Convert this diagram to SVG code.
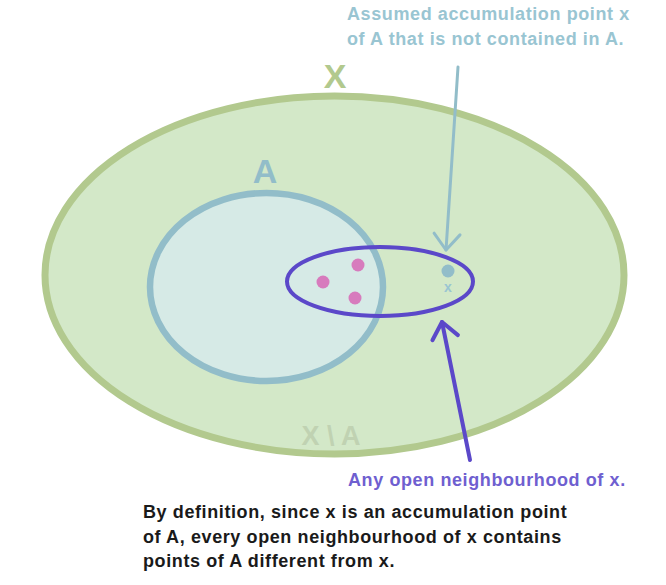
<svg xmlns="http://www.w3.org/2000/svg" width="666" height="585" viewBox="0 0 666 585">
<defs>
<style>
.lbl{font-family:"Liberation Sans",Arial,Helvetica,sans-serif;font-weight:bold}
.big{font-size:34px}
.txt{font-size:18px;letter-spacing:0.6px}
.blue{fill:#99c5d2}
.purple{fill:#6f5fd0}
.body{fill:#1a1a1a}
</style>
<marker id="headBlue" viewBox="-20 -16 24 32" markerWidth="24" markerHeight="32" refX="0" refY="0" orient="auto" markerUnits="userSpaceOnUse" overflow="visible">
<path d="M -16 -13 L 0 0 L -16 13" fill="none" stroke="#92bdc9" stroke-width="3" stroke-linecap="round" stroke-linejoin="round"/>
</marker>
<marker id="headPurple" viewBox="-20 -16 24 32" markerWidth="24" markerHeight="32" refX="0" refY="0" orient="auto" markerUnits="userSpaceOnUse" overflow="visible">
<path d="M -16 -13 L 0 0 L -16 13" fill="none" stroke="#5b48c9" stroke-width="4" stroke-linecap="round" stroke-linejoin="round"/>
</marker>
</defs>
<rect width="666" height="585" fill="#ffffff"/>
<g id="setX">
<ellipse cx="334.5" cy="275" rx="289.5" ry="179" fill="#d3e8c8" stroke="#b2c98e" stroke-width="7"/>
<text class="lbl big" x="335" y="88" text-anchor="middle" fill="#b2c98e">X</text>
<text class="lbl" x="331" y="445" text-anchor="middle" font-size="27" fill="#c0d2b2">X \ A</text>
</g>
<g id="setA">
<ellipse cx="266.5" cy="287" rx="116.5" ry="94" fill="#d6eae6" stroke="#92bdc9" stroke-width="6.5"/>
<text class="lbl big" x="265" y="183" text-anchor="middle" fill="#92bdc9">A</text>
</g>
<g id="neighbourhood">
<ellipse cx="380" cy="281.5" rx="93" ry="34.5" fill="none" stroke="#5b48c9" stroke-width="4"/>
</g>
<g id="pointsA" fill="#d77bbd">
<circle cx="323" cy="282" r="6.5"/>
<circle cx="358" cy="265" r="6.5"/>
<circle cx="355" cy="298" r="6.5"/>
</g>
<g id="pointX">
<circle cx="448" cy="271" r="6.5" fill="#92bdc9"/>
<text class="lbl" x="448" y="292" text-anchor="middle" font-size="14" fill="#99c5d2">x</text>
</g>
<g id="connectors" fill="none" stroke-linecap="round">
<path d="M 458 67 L 446 250" stroke="#92bdc9" stroke-width="3" marker-end="url(#headBlue)"/>
<path d="M 470 460 L 442 322" stroke="#5b48c9" stroke-width="4" marker-end="url(#headPurple)"/>
</g>
<g id="labelAssumed">
<text class="lbl txt blue" x="347" y="20" letter-spacing="0.7">Assumed accumulation point x</text>
<text class="lbl txt blue" x="347" y="45" letter-spacing="0.7">of A that is not contained in A.</text>
</g>
<g id="labelNeighbourhood">
<text class="lbl txt purple" x="348" y="486">Any open neighbourhood of x.</text>
</g>
<g id="labelDefinition">
<text class="lbl txt body" x="143" y="518">By definition, since x is an accumulation point</text>
<text class="lbl txt body" x="143" y="543">of A, every open neighbourhood of x contains</text>
<text class="lbl txt body" x="143" y="567">points of A different from x.</text>
</g>
</svg>
